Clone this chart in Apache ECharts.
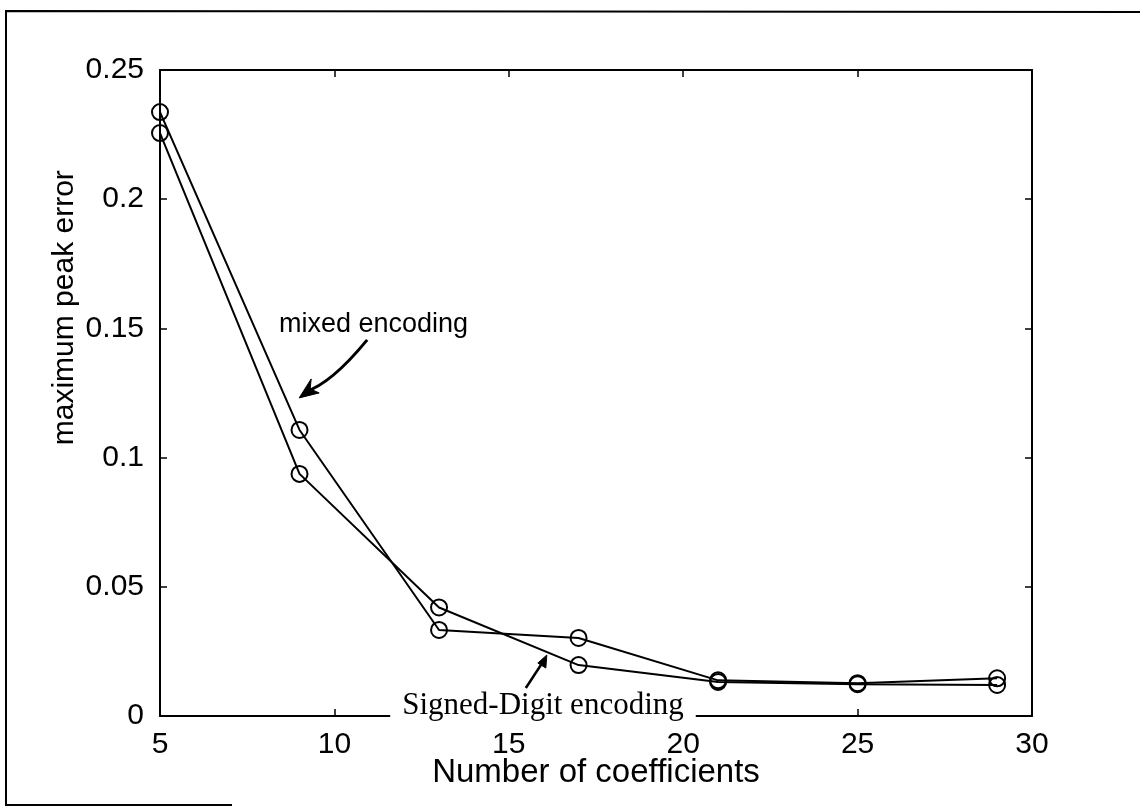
<!DOCTYPE html>
<html>
<head>
<meta charset="utf-8">
<script src="https://cdn.jsdelivr.net/npm/echarts@6/dist/echarts.min.js"></script>
<style>
  html, body { margin: 0; padding: 0; background: #fff; }
  #chart { width: 1140px; height: 807px; }
</style>
</head>
<body>
<div id="chart"></div>
<script>
// Filter length (number of coefficients) on the x axis
const coefficients = [5, 9, 13, 17, 21, 25, 29];
// Maximum peak error for each coding scheme
const mixedEncoding = [0.2337, 0.1107, 0.0333, 0.0302, 0.0138, 0.0127, 0.0146];
const signedDigitEncoding = [0.2256, 0.0937, 0.0420, 0.0197, 0.0132, 0.0123, 0.0120];
// Axis tick labels
const xTicks = ['5', '10', '15', '20', '25', '30'];
const yTicks = ['0', '0.05', '0.1', '0.15', '0.2', '0.25'];

// Annotation anchors, in data units
const mixedLabelAt = [11.12, 0.1513];
const mixedArrowTip = [8.99, 0.1231];
const sdLabelAt = [15.98, 0.0039];
const sdArrowTip = [16.09, 0.0236];
const yNameAt = [2.27, 0.158];

const chart = echarts.init(document.getElementById('chart'), null, { renderer: 'canvas' });

const sans = 'Liberation Sans, Arial, sans-serif';
const serif = 'Liberation Serif, Times New Roman, serif';

function pairs(xs, ys) { return xs.map((x, i) => [x, ys[i]]); }

const axisLine = { show: true, onZero: false, lineStyle: { color: '#000', width: 2 } };
const tickIn = { show: true, inside: true, length: 7, lineStyle: { color: '#000', width: 1.5 } };

const seriesStyle = {
  type: 'line',
  symbol: 'circle',
  symbolSize: 16,
  showAllSymbol: true,
  itemStyle: { color: 'rgba(255,255,255,0)', borderColor: '#000', borderWidth: 2 },
  lineStyle: { color: '#000', width: 2 },
  emphasis: { disabled: true },
  z: 3
};

chart.setOption({
  animation: false,
  backgroundColor: '#fff',
  grid: { left: 160, right: 108, top: 70, bottom: 91, containLabel: false },
  xAxis: [
    {
      type: 'value', min: 5, max: 30, interval: 5, position: 'bottom',
      axisLine: axisLine, axisTick: tickIn, splitLine: { show: false },
      axisLabel: {
        color: '#000', fontFamily: sans, fontSize: 30, margin: 14,
        formatter: (v) => xTicks[Math.round((v - 5) / 5)]
      },
      name: 'Number of coefficients', nameLocation: 'middle', nameGap: 40, nameMoveOverlap: false,
      nameTextStyle: { color: '#000', fontFamily: sans, fontSize: 33 }
    },
    {
      type: 'value', min: 5, max: 30, interval: 5, position: 'top',
      axisLine: axisLine, axisTick: tickIn, axisLabel: { show: false }, splitLine: { show: false }
    }
  ],
  yAxis: [
    {
      type: 'value', min: 0, max: 0.25, interval: 0.05, position: 'left',
      axisLine: axisLine, axisTick: tickIn, splitLine: { show: false },
      axisLabel: {
        color: '#000', fontFamily: sans, fontSize: 30, margin: 16,
        formatter: (v) => yTicks[Math.round(v / 0.05)]
      }
    },
    {
      type: 'value', min: 0, max: 0.25, interval: 0.05, position: 'right',
      axisLine: axisLine, axisTick: tickIn, axisLabel: { show: false }, splitLine: { show: false }
    }
  ],
  series: [
    Object.assign({ name: 'mixed encoding', data: pairs(coefficients, mixedEncoding) }, seriesStyle),
    Object.assign({ name: 'Signed-Digit encoding', data: pairs(coefficients, signedDigitEncoding) }, seriesStyle)
  ]
});

// Annotations, y-axis title and outer figure frame, placed from data anchors
function px(pt) { return chart.convertToPixel({ gridIndex: 0 }, pt); }
const mLab = px(mixedLabelAt), mTip = px(mixedArrowTip);
const sLab = px(sdLabelAt), sTip = px(sdArrowTip);
const yName = px(yNameAt);

chart.setOption({
  graphic: [
    // outer frame
    { type: 'polyline', z: 100, shape: { points: [[232, 805], [6, 805], [6, 11], [1140, 12]] },
      style: { stroke: '#000', lineWidth: 2, fill: null } },
    // y-axis title
    { type: 'text', z: 100, x: yName[0], y: yName[1], rotation: Math.PI / 2,
      style: { text: 'maximum peak error', font: '30px ' + sans, fill: '#000', align: 'center', verticalAlign: 'middle' } },
    // mixed encoding label
    { type: 'text', z: 100, x: mLab[0], y: mLab[1],
      style: { text: 'mixed encoding', font: '27px ' + sans, fill: '#000', align: 'center', verticalAlign: 'middle' } },
    // curved arrow towards the mixed encoding curve
    { type: 'bezierCurve', z: 100,
      shape: { x1: mTip[0] + 68, y1: mTip[1] - 58, cpx1: mTip[0] + 45, cpy1: mTip[1] - 30,
               x2: mTip[0] + 6, y2: mTip[1] - 6, cpx2: mTip[0] + 25, cpy2: mTip[1] - 12 },
      style: { stroke: '#000', lineWidth: 3, fill: null } },
    { type: 'polygon', z: 100,
      shape: { points: [[mTip[0], mTip[1]], [mTip[0] + 12, mTip[1] - 19], [mTip[0] + 11, mTip[1] - 9], [mTip[0] + 20, mTip[1] - 5]] },
      style: { fill: '#000', stroke: '#000', lineWidth: 1 } },
    // Signed-Digit label, with a white box breaking the x axis line
    { type: 'text', z: 100, x: sLab[0], y: sLab[1],
      style: { text: 'Signed-Digit encoding', font: '31px ' + serif, fill: '#000', align: 'center', verticalAlign: 'middle',
               backgroundColor: '#fff', padding: [2, 12, 2, 12] } },
    // straight arrow towards the Signed-Digit curve
    { type: 'line', z: 100,
      shape: { x1: sTip[0] - 21, y1: sTip[1] + 33, x2: sTip[0] - 2, y2: sTip[1] + 4 },
      style: { stroke: '#000', lineWidth: 2.5 } },
    { type: 'polygon', z: 100,
      shape: { points: [[sTip[0], sTip[1]], [sTip[0] - 1, sTip[1] + 13], [sTip[0] - 9, sTip[1] + 8]] },
      style: { fill: '#000', stroke: '#000', lineWidth: 1 } }
  ]
});
</script>
</body>
</html>
